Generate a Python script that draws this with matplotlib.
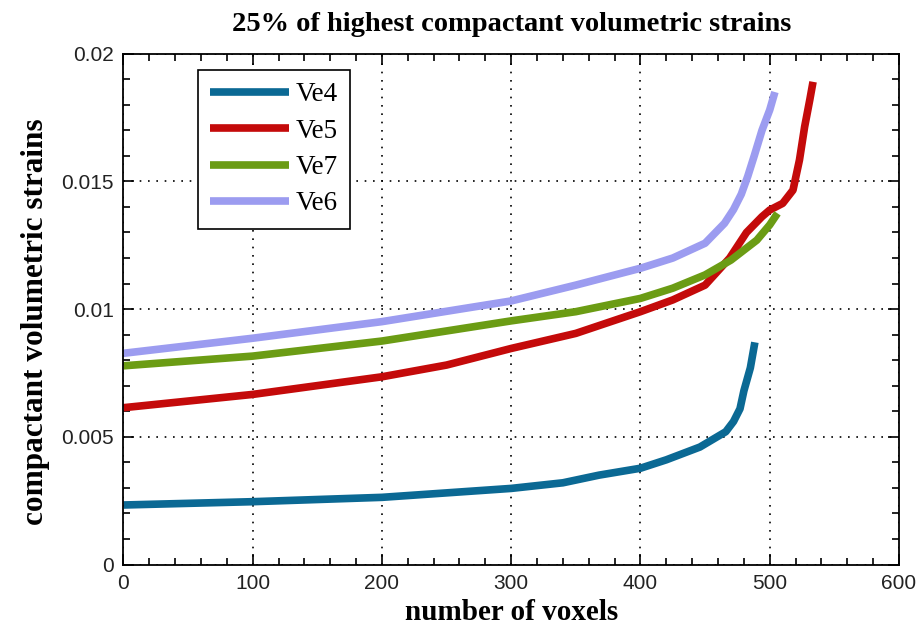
import numpy as np
import matplotlib
matplotlib.use("Agg")
from matplotlib import pyplot as plt
from matplotlib.ticker import MultipleLocator, FormatStrFormatter

# values (number of voxels, strain)
ve4_x = [0, 100, 200, 300, 340, 368, 400, 420, 446, 456, 466, 472, 477, 480, 485, 488.5]
ve4_y = [0.00233, 0.00246, 0.00263, 0.00298, 0.0032, 0.0035, 0.00377, 0.0041, 0.0046,
         0.0049, 0.0052, 0.0056, 0.0061, 0.0068, 0.0077, 0.0087]

ve5_x = [0, 100, 200, 250, 300, 350, 400, 425, 450, 469, 482, 494, 500, 510, 518, 523, 527, 531, 533.5]
ve5_y = [0.00614, 0.00666, 0.00735, 0.00781, 0.00846, 0.00905, 0.0099, 0.01036, 0.01094,
         0.0120, 0.0130, 0.01362, 0.01388, 0.01414, 0.01466, 0.01584, 0.01714, 0.0182, 0.0189]

ve7_x = [0, 100, 200, 300, 350, 400, 425, 450, 470, 490, 500, 506]
ve7_y = [0.00778, 0.00816, 0.00875, 0.00954, 0.0099, 0.01042, 0.01082, 0.01134, 0.01192,
         0.0127, 0.0133, 0.01375]

ve6_x = [0, 100, 200, 300, 350, 400, 425, 450, 465, 472, 478, 483, 488, 494, 500, 504]
ve6_y = [0.00827, 0.00886, 0.00951, 0.01032, 0.01094, 0.0116, 0.0120, 0.01258, 0.01336,
         0.0139, 0.0145, 0.0152, 0.0160, 0.0170, 0.0178, 0.0185]

series = [("Ve4", ve4_x, ve4_y, "#0b6994"),
          ("Ve5", ve5_x, ve5_y, "#c40a0a"),
          ("Ve7", ve7_x, ve7_y, "#6b9c14"),
          ("Ve6", ve6_x, ve6_y, "#9c9cf0")]

fig = plt.figure(figsize=(9.23, 6.35), dpi=100)
ax = fig.add_axes([0.1337, 0.111, 0.8403, 0.8044])

for name, xs, ys, col in series:
    ax.plot(xs, ys, color=col, lw=5.5, label=name, solid_capstyle="butt")

ax.set_xlim(0, 600)
ax.set_ylim(0, 0.02)
ax.xaxis.set_major_locator(MultipleLocator(100))
ax.xaxis.set_minor_locator(MultipleLocator(20))
ax.yaxis.set_major_locator(MultipleLocator(0.005))
ax.yaxis.set_minor_locator(MultipleLocator(0.001))
ax.yaxis.set_major_formatter(FormatStrFormatter("%g"))
ax.tick_params(which="both", direction="in", top=True, right=True, width=1.2)
ax.tick_params(which="major", length=8, labelsize=15, pad=7)
ax.tick_params(which="minor", length=5)
for lab in ax.get_xticklabels() + ax.get_yticklabels():
    lab.set_family("Liberation Sans")
    lab.set_color("#222222")
for s in ax.spines.values():
    s.set_linewidth(1.3)

ax.grid(True, which="major", color="black", linestyle=(0, (1, 4)), lw=1.2)

ax.set_title("25% of highest compactant volumetric strains", family="Liberation Serif",
             fontsize=20.5, fontweight="bold", pad=16)
ax.set_xlabel("number of voxels", family="Liberation Serif", fontsize=21,
              fontweight="bold", labelpad=4)
ax.set_ylabel("compactant volumetric strains", family="Liberation Serif", fontsize=22.5,
              fontweight="bold")
ax.yaxis.set_label_coords(-0.094, 0.475)

leg = ax.legend(loc="upper left", bbox_to_anchor=(0.096, 0.968), borderaxespad=0,
                fancybox=False, edgecolor="black", framealpha=1, handlelength=2.9,
                labelspacing=0.42, borderpad=0.45, handletextpad=0.25,
                prop={"family": "Liberation Serif", "size": 19.5})
leg.get_frame().set_linewidth(1.2)

fig.savefig("out.png", dpi=100)
